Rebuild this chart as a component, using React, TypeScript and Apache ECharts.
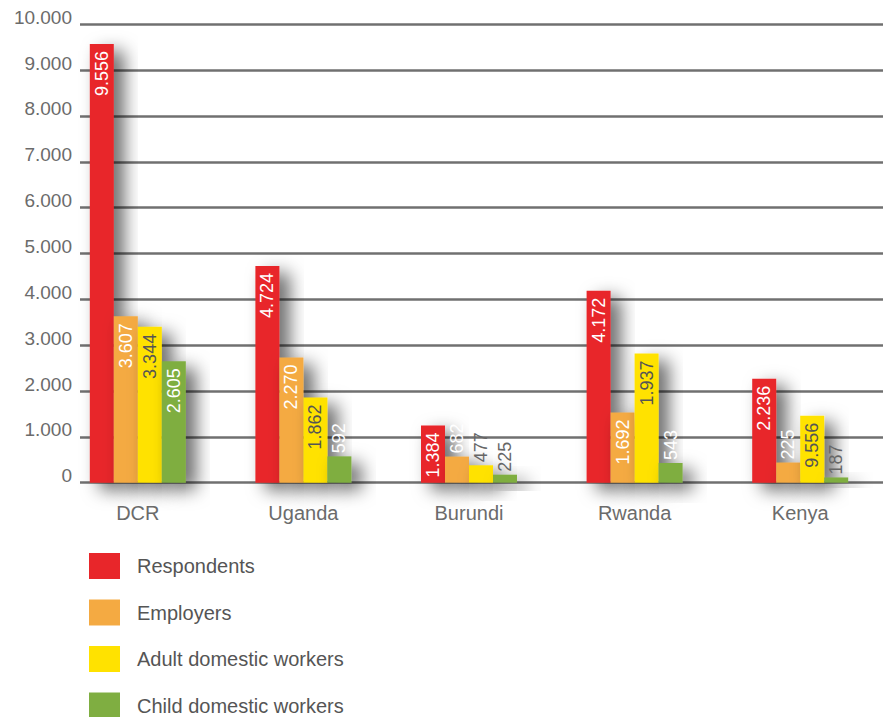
import React, { useEffect, useRef } from "react";
import * as echarts from "echarts";

const categories = ["DCR", "Uganda", "Burundi", "Rwanda", "Kenya"];
const seriesNames = ["Respondents", "Employers", "Adult domestic workers", "Child domestic workers"];

// bar heights as drawn
const respondents = [9570, 4730, 1250, 4190, 2270];
const employers = [3630, 2730, 570, 1530, 440];
const adultWorkers = [3400, 1860, 380, 2820, 1460];
const childWorkers = [2650, 575, 175, 430, 115];

// label texts as printed
const respondentsLabels = ["9.556", "4.724", "1.384", "4.172", "2.236"];
const employersLabels = ["3.607", "2.270", "682", "1.692", "225"];
const adultLabels = ["3.344", "1.862", "477", "1.937", "9.556"];
const childLabels = ["2.605", "592", "225", "543", "187"];

const yTicks = ["0", "1.000", "2.000", "3.000", "4.000", "5.000", "6.000", "7.000", "8.000", "9.000", "10.000"];

const colors = ["#e8262a", "#f4aa42", "#ffe200", "#7fae41"];
const insideLabelColors = ["#ffffff", "#ffffff", "#555555", "#ffffff"];
const FONT = "'Liberation Sans', Arial, Helvetica, sans-serif";

export default function App() {
  const ref = useRef<HTMLDivElement>(null);
  useEffect(() => {
    if (!ref.current) return;
    const chart = echarts.init(ref.current, undefined, { renderer: "svg" });
    const values = [respondents, employers, adultWorkers, childWorkers];
    const labels = [respondentsLabels, employersLabels, adultLabels, childLabels];
    const darkOutside = new Set(["2-2", "2-3", "4-3"]);

    const series = values.map((vals, si) => ({
      name: seriesNames[si],
      type: "bar",
      xAxisIndex: 1,
      yAxisIndex: 1,
      barWidth: 24,
      barGap: "0%",
      itemStyle: {
        color: colors[si],
        shadowColor: "rgba(0,0,0,0.6)",
        shadowBlur: 18,
        shadowOffsetX: 10,
        shadowOffsetY: 7,
      },
      data: vals.map((v, ci) => {
        const inside = v >= 1000;
        const txt = labels[si][ci];
        return {
          value: v,
          label: inside
            ? {
                show: true,
                position: "insideTop",
                distance: 7,
                rotate: 90,
                align: "right",
                verticalAlign: "middle",
                color: insideLabelColors[si],
                fontSize: 18,
                fontFamily: FONT,
                formatter: () => txt,
              }
            : {
                show: true,
                position: "top",
                distance: 3,
                rotate: 90,
                align: "left",
                verticalAlign: "middle",
                color: darkOutside.has(`${ci}-${si}`) ? "#666666" : "#ffffff",
                fontSize: 18,
                fontFamily: FONT,
                formatter: () => txt,
              },
        };
      }),
    }));

    chart.setOption({
      animation: false,
      grid: [
        { left: 80, right: 0, top: 24.3, bottom: 234.3 },
        { left: 55, right: -32, top: 24.3, bottom: 234.3 },
      ],
      legend: {
        orient: "vertical",
        left: 89,
        top: 553,
        height: 220,
        padding: 0,
        itemWidth: 31,
        itemHeight: 26,
        itemGap: 20.5,
        icon: "rect",
        data: seriesNames,
        textStyle: { fontSize: 20, color: "#555555", fontFamily: FONT, padding: [0, 0, 0, 12] },
      },
      xAxis: [
        { type: "value", gridIndex: 0, show: false, min: 0, max: 1 },
        {
          type: "category",
          gridIndex: 1,
          data: categories,
          axisLine: { show: false },
          axisTick: { show: false },
          axisLabel: { fontSize: 20, color: "#6b6b6b", fontFamily: FONT, margin: 20 },
        },
      ],
      yAxis: [
        {
          type: "value",
          gridIndex: 0,
          min: 0,
          max: 10000,
          interval: 1000,
          axisLine: { show: false },
          axisTick: { show: false },
          axisLabel: {
            fontSize: 19,
            color: "#6b6b6b",
            fontFamily: FONT,
            margin: 8,
            verticalAlign: "bottom",
            lineHeight: 14,
            formatter: (v: number) => yTicks[Math.round(v / 1000)],
          },
          splitLine: {
            show: true,
            lineStyle: { color: "#707070", width: 2.5 },
          },
        },
        { type: "value", gridIndex: 1, min: 0, max: 10000, show: false },
      ],
      series,
    });
    return () => chart.dispose();
  }, []);
  return (
    <div
      ref={ref}
      style={{ position: "absolute", left: 0, top: 0, width: 883, height: 717 }}
    />
  );
}
